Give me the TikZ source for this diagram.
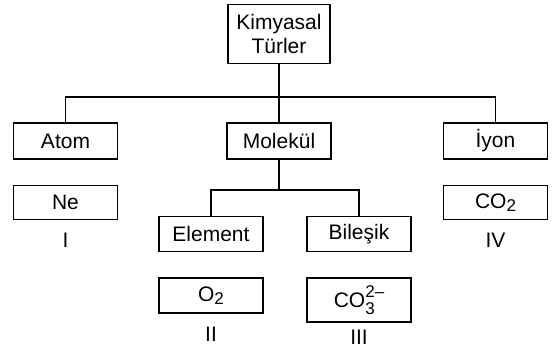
\documentclass[tikz,border=0pt]{standalone}
\usepackage{fontspec}
\setmainfont{Liberation Sans}
\newcommand{\sbs}[2][3.5pt]{\raisebox{-#1}{\fontsize{17}{17}\selectfont #2}}
\begin{document}
\begin{tikzpicture}[x=1pt,y=-1pt,
  box/.style={draw, line width=1.5pt, minimum width=104pt, minimum height=35pt, inner sep=0pt, font=\fontsize{21}{24}\selectfont},
  lbl/.style={font=\fontsize{21}{24}\selectfont, inner sep=0pt},
  conn/.style={line width=1.5pt}]
\useasboundingbox (0,0) rectangle (552,350);
\node[box, minimum width=102pt, minimum height=59pt, align=center] (kim) at (279,34) {Kimyasal\\Türler};
\node[box, minimum height=36pt] (atom) at (65.5,141) {Atom};
\node[box, minimum height=36pt] (mol) at (279,141) {Molekül};
\node[box, minimum height=36pt] (iyon) at (495.5,141) {İyon};
\node[box, minimum height=34pt] (ne) at (65.5,202.5) {Ne};
\node[box, minimum height=34pt] (co2) at (495.5,202.5) {CO\sbs{2}};
\node[lbl] (l1) at (65.5,240) {I};
\node[lbl] (l4) at (495.5,240) {IV};
\node[box] (elem) at (211,234) {Element};
\node[box] (bil) at (359,234) {Bileşik};
\node[box, minimum height=35pt] (o2) at (211,295.5) {O\sbs{2}};
\node[box, minimum height=44pt] (co3) at (359,300) {CO\makebox[0pt][l]{\sbs[7pt]{3}}\raisebox{10pt}{\fontsize{17}{17}\selectfont 2–}};
\node[lbl] (l2) at (211,334) {II};
\node[lbl] (l3) at (359,337) {III};
\coordinate (top) at (279,97);
\coordinate (mb) at (279,190);
\draw[conn] (kim.south) -- (mol.north);
\draw[conn] (atom.north) |- (top) -| (iyon.north);
\draw[conn] (mol.south) -- (mb);
\draw[conn] (elem.north) |- (mb) -| (bil.north);
\end{tikzpicture}
\end{document}
